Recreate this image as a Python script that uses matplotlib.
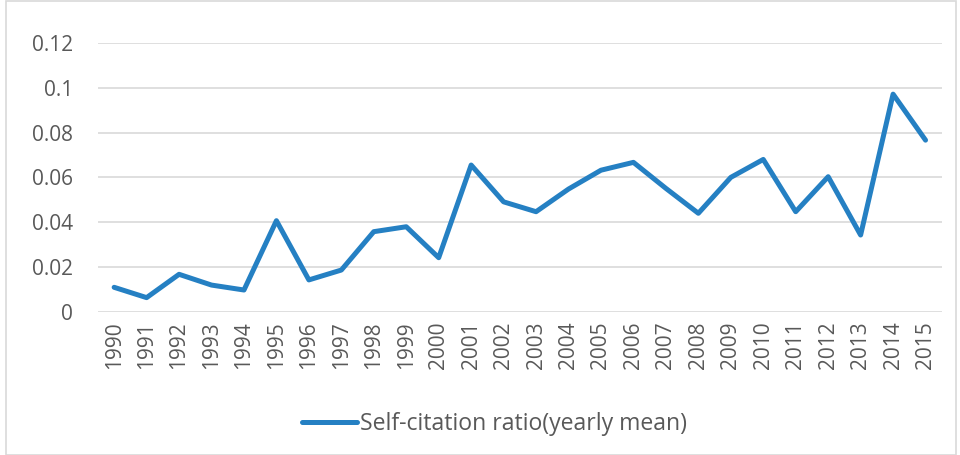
import matplotlib
matplotlib.use("Agg")
import matplotlib.pyplot as plt
from matplotlib.patches import Rectangle

plt.rcParams["font.family"] = ["Open Sans", "DejaVu Sans"]

YEARS = [str(y) for y in range(1990, 2016)]
RATIO = [
    0.0110, 0.0064, 0.0168, 0.0120, 0.0098, 0.0407, 0.0143, 0.0187, 0.0358, 0.0380,
    0.0242, 0.0655, 0.0491, 0.0447, 0.0548, 0.0632, 0.0667, 0.0551, 0.0440, 0.0600,
    0.0680, 0.0447, 0.0603, 0.0343, 0.0971, 0.0766,
]
YTICKS = [0, 0.02, 0.04, 0.06, 0.08, 0.1, 0.12]
YTICK_LABELS = ["0", "0.02", "0.04", "0.06", "0.08", "0.1", "0.12"]

TEXT = "#595959"
GRID = "#d9d9d9"
BLUE = "#2580c3"

fig = plt.figure(figsize=(9.6, 4.55), dpi=100)
fig.patch.set_facecolor("white")
ax = fig.add_axes([0.102, 0.3143, 0.879, 0.5917])

x = list(range(len(YEARS)))
line, = ax.plot(x, RATIO, color=BLUE, linewidth=3.6, solid_joinstyle="round",
                solid_capstyle="round", label="Self-citation ratio(yearly mean)")

ax.set_xlim(-0.5, len(YEARS) - 0.5)
ax.set_ylim(0, 0.12)
ax.set_yticks(YTICKS)
ax.set_yticklabels(YTICK_LABELS, fontsize=15, color=TEXT)
ax.set_xticks(x)
ax.set_xticklabels(YEARS, rotation=90, fontsize=15, color=TEXT)
ax.tick_params(axis="both", length=0)
ax.tick_params(axis="y", pad=18)
ax.tick_params(axis="x", pad=7)
ax.grid(axis="y", color=GRID, linewidth=1.2)
ax.set_axisbelow(True)
for s in ax.spines.values():
    s.set_visible(False)

fig.legend(handles=[line], loc="center", bbox_to_anchor=(0.515, 0.068),
           frameon=False, fontsize=16.6, labelcolor=TEXT, handlelength=2.4,
           handletextpad=0.15)

# chart area border
fig.patches.append(Rectangle((0.006, 0.0), 0.99, 0.998, transform=fig.transFigure,
                             fill=False, edgecolor="#d9d9d9", linewidth=1.2))

fig.savefig("out.png", dpi=100, facecolor="white")
